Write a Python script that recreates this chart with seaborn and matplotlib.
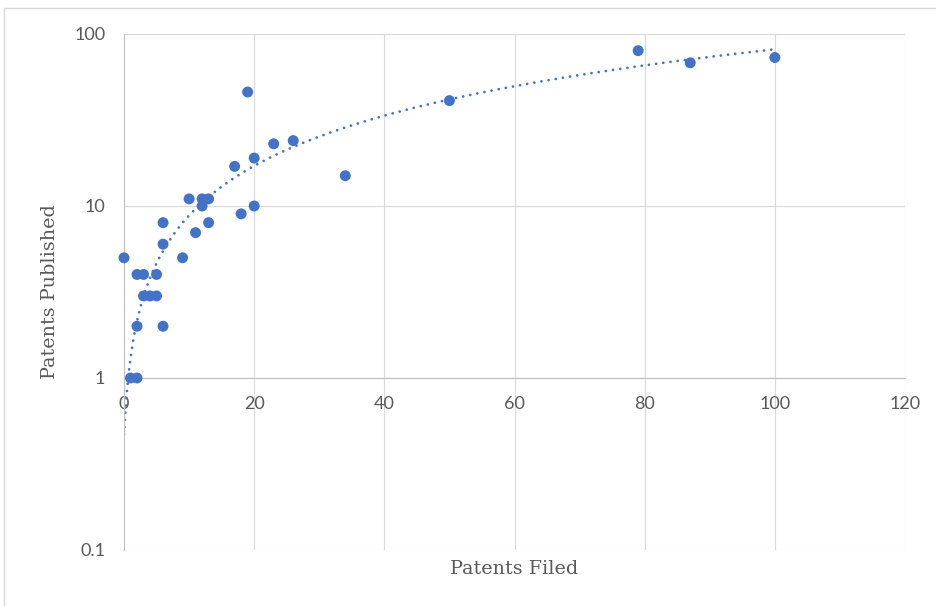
import numpy as np
import pandas as pd
import matplotlib
matplotlib.use("Agg")
import matplotlib.pyplot as plt
from matplotlib.ticker import FixedLocator, FixedFormatter, NullLocator
from matplotlib.patches import Rectangle
import seaborn as sns

# Patent counts per applicant: filed vs. published
patents_filed = [0, 1, 2, 2, 2, 3, 3, 4, 5, 5, 6, 6, 6, 9, 10, 11, 12, 13,
                 12, 13, 17, 18, 19, 20, 20, 23, 26, 34, 50, 79, 87, 100]
patents_published = [5, 1, 1, 2, 4, 4, 3, 3, 3, 4, 2, 6, 8, 5, 11, 7, 11, 11,
                     10, 8, 17, 9, 46, 19, 10, 23, 24, 15, 41, 80, 68, 73]

# second-order polynomial trendline: c2*x^2 + c1*x + c0
trend_c2 = -0.000265
trend_c1 = 0.8368
trend_c0 = 0.47

x_ticks = [0, 20, 40, 60, 80, 100, 120]
y_ticks = [0.1, 1, 10, 100]
y_tick_labels = ["0.1", "1", "10", "100"]

df = pd.DataFrame({"filed": patents_filed, "published": patents_published})

trend_x = np.linspace(df["filed"].min(), df["filed"].max(), 300)
trend = pd.DataFrame({
    "filed": trend_x,
    "published": np.polyval([trend_c2, trend_c1, trend_c0], trend_x),
})

sns.set_theme(style="white")
W, H = 936, 606
fig = plt.figure(figsize=(W / 100, H / 100), dpi=100)
ax = fig.add_axes([124 / W, 1 - 550 / H, (905 - 124) / W, (550 - 34) / H])

blue = "#4472C4"
grid_c = "#D9D9D9"
text_c = "#595959"

sns.scatterplot(data=df, x="filed", y="published", ax=ax, color=blue,
                s=62, edgecolor="none", zorder=3, clip_on=False)
sns.lineplot(data=trend, x="filed", y="published", ax=ax, color=blue,
             sort=False, zorder=2)
trend_line = ax.lines[-1]
trend_line.set_linewidth(2.0)
trend_line.set_dashes((0.01, 2.6))
trend_line.set_dash_capstyle("round")

ax.set_yscale("log")
ax.set_xlim(0, 120)
ax.set_ylim(0.1, 100)

ax.xaxis.set_major_locator(FixedLocator(x_ticks))
ax.xaxis.set_major_formatter(FixedFormatter([str(t) for t in x_ticks]))
ax.yaxis.set_major_locator(FixedLocator(y_ticks))
ax.yaxis.set_major_formatter(FixedFormatter(y_tick_labels))
ax.yaxis.set_minor_locator(NullLocator())

ax.set_axisbelow(True)
ax.grid(True, which="major", color=grid_c, linewidth=0.8)

for side in ["top", "right"]:
    ax.spines[side].set_visible(False)
ax.spines["bottom"].set_position(("data", 1))
ax.spines["bottom"].set_color("#BFBFBF")
ax.spines["bottom"].set_linewidth(0.8)
ax.spines["left"].set_color("#BFBFBF")
ax.spines["left"].set_linewidth(0.8)

ax.tick_params(axis="both", length=0, labelcolor=text_c)
ax.tick_params(axis="x", pad=13)
ax.tick_params(axis="y", pad=13.5)
for lab in ax.get_xticklabels() + ax.get_yticklabels():
    lab.set_fontfamily(["Lato", "DejaVu Sans"])
    lab.set_fontsize(13)

label_font = dict(family=["DejaVu Serif"], size=13.8, color=text_c)
ax.set_xlabel("Patents Filed", va="center", **label_font)
ax.set_ylabel("Patents Published", va="center", **label_font)
ax.xaxis.set_label_coords(0.5, (550 - 569) / 516)
ax.yaxis.set_label_coords((50 - 124) / 781, 0.5)

# chart area frame
fig.patches.append(Rectangle((4 / W, -0.1), 1.2, 1 - 8 / H + 0.1,
                             transform=fig.transFigure, fill=False,
                             edgecolor=grid_c, linewidth=1.0))

fig.savefig("out.png", dpi=100, facecolor="white")
